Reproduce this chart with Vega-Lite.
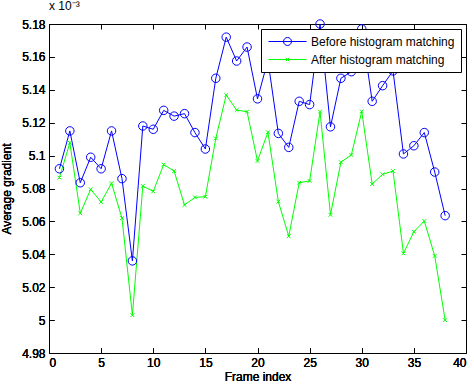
{
  "$schema": "https://vega.github.io/schema/vega-lite/v6.json",
  "autosize": "none",
  "width": 417,
  "height": 329,
  "padding": {"left": 49, "top": 24, "right": 8, "bottom": 34},
  "background": "white",
  "title": {"text": "x 10⁻³", "anchor": "start", "frame": "group", "font": "Liberation Sans", "fontSize": 12, "fontWeight": "normal", "color": "black", "offset": 5},
  "config": {
    "font": "Liberation Sans",
    "view": {"stroke": "black", "strokeWidth": 1},
    "axis": {"grid": false, "domain": false, "ticks": true, "zindex": 1, "offset": -5, "tickColor": "black", "tickWidth": 1, "tickSize": 5, "labelColor": "black", "labelFontSize": 12, "labelFont": "Liberation Sans", "titleFont": "Liberation Sans", "titleFontSize": 12, "titleFontWeight": "normal", "titleColor": "black", "labelPadding": 4}
  },
  "data": {"values": [
    {"frame": 1, "Before histogram matching": 5.092, "After histogram matching": 5.0866},
    {"frame": 2, "Before histogram matching": 5.115, "After histogram matching": 5.1078},
    {"frame": 3, "Before histogram matching": 5.0835, "After histogram matching": 5.065},
    {"frame": 4, "Before histogram matching": 5.099, "After histogram matching": 5.0795},
    {"frame": 5, "Before histogram matching": 5.092, "After histogram matching": 5.0718},
    {"frame": 6, "Before histogram matching": 5.115, "After histogram matching": 5.0832},
    {"frame": 7, "Before histogram matching": 5.086, "After histogram matching": 5.062},
    {"frame": 8, "Before histogram matching": 5.036, "After histogram matching": 5.003},
    {"frame": 9, "Before histogram matching": 5.118, "After histogram matching": 5.0815},
    {"frame": 10, "Before histogram matching": 5.116, "After histogram matching": 5.0783},
    {"frame": 11, "Before histogram matching": 5.1275, "After histogram matching": 5.0945},
    {"frame": 12, "Before histogram matching": 5.124, "After histogram matching": 5.0906},
    {"frame": 13, "Before histogram matching": 5.1255, "After histogram matching": 5.07},
    {"frame": 14, "Before histogram matching": 5.114, "After histogram matching": 5.0746},
    {"frame": 15, "Before histogram matching": 5.104, "After histogram matching": 5.075},
    {"frame": 16, "Before histogram matching": 5.147, "After histogram matching": 5.1105},
    {"frame": 17, "Before histogram matching": 5.172, "After histogram matching": 5.1368},
    {"frame": 18, "Before histogram matching": 5.1575, "After histogram matching": 5.1277},
    {"frame": 19, "Before histogram matching": 5.166, "After histogram matching": 5.1267},
    {"frame": 20, "Before histogram matching": 5.1345, "After histogram matching": 5.0967},
    {"frame": 21, "Before histogram matching": 5.158, "After histogram matching": 5.1142},
    {"frame": 22, "Before histogram matching": 5.1135, "After histogram matching": 5.072},
    {"frame": 23, "Before histogram matching": 5.105, "After histogram matching": 5.051},
    {"frame": 24, "Before histogram matching": 5.133, "After histogram matching": 5.0835},
    {"frame": 25, "Before histogram matching": 5.131, "After histogram matching": 5.0846},
    {"frame": 26, "Before histogram matching": 5.18, "After histogram matching": 5.1267},
    {"frame": 27, "Before histogram matching": 5.1175, "After histogram matching": 5.064},
    {"frame": 28, "Before histogram matching": 5.147, "After histogram matching": 5.096},
    {"frame": 29, "Before histogram matching": 5.151, "After histogram matching": 5.1004},
    {"frame": 30, "Before histogram matching": 5.177, "After histogram matching": 5.1269},
    {"frame": 31, "Before histogram matching": 5.133, "After histogram matching": 5.0827},
    {"frame": 32, "Before histogram matching": 5.1425, "After histogram matching": 5.0886},
    {"frame": 33, "Before histogram matching": 5.1515, "After histogram matching": 5.0906},
    {"frame": 34, "Before histogram matching": 5.101, "After histogram matching": 5.0406},
    {"frame": 35, "Before histogram matching": 5.106, "After histogram matching": 5.0537},
    {"frame": 36, "Before histogram matching": 5.114, "After histogram matching": 5.0602},
    {"frame": 37, "Before histogram matching": 5.09, "After histogram matching": 5.039},
    {"frame": 38, "Before histogram matching": 5.0635, "After histogram matching": 5.0}
  ]},
  "transform": [{"fold": ["Before histogram matching", "After histogram matching"], "as": ["series", "value"]}],
  "encoding": {
    "x": {"field": "frame", "type": "quantitative", "scale": {"domain": [0, 40], "nice": false}, "axis": {"orient": "bottom", "values": [0, 5, 10, 15, 20, 25, 30, 35, 40], "title": "Frame index", "titlePadding": 3}},
    "y": {"field": "value", "type": "quantitative", "scale": {"domain": [4.98, 5.18], "nice": false, "zero": false}, "axis": {"orient": "left", "values": [4.98, 5.0, 5.02, 5.04, 5.06, 5.08, 5.1, 5.12, 5.14, 5.16, 5.18], "format": ".3~g", "title": "Average gradient", "titlePadding": 8}},
    "color": {"field": "series", "type": "nominal", "sort": ["Before histogram matching", "After histogram matching"], "scale": {"domain": ["Before histogram matching", "After histogram matching"], "range": ["#0000ff", "#00ff00"]}, "legend": null}
  },
  "layer": [
    {
      "mark": {"type": "line", "strokeWidth": 1},
      "encoding": {
        "color": {"field": "series", "type": "nominal", "sort": ["Before histogram matching", "After histogram matching"],
          "legend": {"title": null, "orient": "top-right", "offset": 5, "fillColor": "white", "strokeColor": "black", "padding": 6, "rowPadding": 5, "clipHeight": 13, "symbolOffset": 1, "symbolType": "circle", "symbolSize": 1444, "labelFontSize": 12, "labelColor": "black", "labelOffset": 4, "symbolStrokeWidth": 1,
            "encode": {"symbols": {"update": {"shape": {"signal": "datum.value === 'Before histogram matching' ? 'M-1,0L1,0M0.21,0A0.21,0.21,0,1,1,-0.21,0A0.21,0.21,0,1,1,0.21,0' : 'M-1,0L1,0M-0.09,-0.09L0.09,0.09M-0.09,0.09L0.09,-0.09'"}, "fill": {"value": "transparent"}, "size": {"value": 1444}, "strokeWidth": {"value": 1}}}}}}
      }
    },
    {
      "transform": [{"filter": "datum.series === 'Before histogram matching'"}],
      "mark": {"type": "point", "shape": "circle", "filled": false, "strokeWidth": 1, "opacity": 1, "size": 72}
    },
    {
      "transform": [{"filter": "datum.series === 'After histogram matching'"}],
      "mark": {"type": "point", "shape": "M-1,-1L1,1M-1,1L1,-1", "filled": false, "strokeWidth": 1, "opacity": 1, "size": 14}
    },
    {
      "mark": {"type": "point", "opacity": 0},
      "encoding": {
        "x": {"field": "frame", "type": "quantitative", "axis": {"orient": "top", "values": [0, 5, 10, 15, 20, 25, 30, 35, 40], "labels": false, "title": null}},
        "y": {"field": "value", "type": "quantitative", "axis": {"orient": "right", "values": [4.98, 5.0, 5.02, 5.04, 5.06, 5.08, 5.1, 5.12, 5.14, 5.16, 5.18], "labels": false, "title": null}},
        "color": {"field": "series", "type": "nominal", "legend": null}
      }
    }
  ],
  "resolve": {"axis": {"x": "independent", "y": "independent"}}
}
